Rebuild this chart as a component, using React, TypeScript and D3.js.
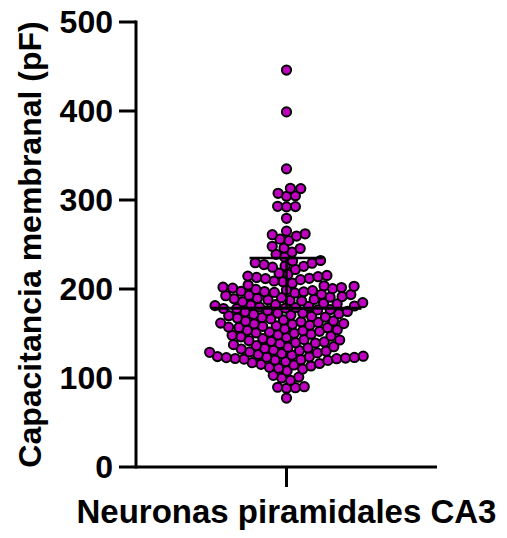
import React from "react";
import * as d3 from "d3";

const category = "Neuronas piramidales CA3";
const yLabel = "Capacitancia membranal (pF)";
const yTicks = [0, 100, 200, 300, 400, 500];

const outliers = [446, 399, 335, 313.2, 312.8, 307.5, 304.8, 304.2, 292.9, 292.3, 292.6, 279.4];
const band250 = [265, 261, 259.5, 256, 254.5, 262, 248, 245.5, 246, 241.5, 236, 239];
const band205 = [231.5, 229, 232, 226, 225.5, 229.5, 224.5, 222, 227.5, 216.5, 215.2, 213.8, 212, 210.5, 214.5, 211.7, 209, 217.8, 208.2, 213, 206.5];
const band185 = [204.5, 203, 202, 201, 199.5, 198.2, 197.5, 196.8, 199, 200.4, 197.1, 195.6, 203.6, 201.7, 196.2, 194, 193, 191.5, 190.2, 189.5, 188.3, 187.2, 186.5, 192.5, 189, 190.8, 185.6, 187.9, 193.7];
const band155 = [184, 183.2, 182.5, 181.3, 180.4, 179.8, 178.6, 177.9, 176.5, 175.8, 182, 180.9, 178.1, 176.9, 184.6, 179.2, 174.3, 173, 172.1, 171.4, 170, 169.2, 168.5, 167.3, 166.4, 165.2, 172.8, 170.7, 168, 174.8, 164.1, 163.2, 162.5, 161.7, 160.3, 159.4, 158.6, 157.2, 156.5, 155.3, 163.8, 160.9, 158, 161.1, 156.8];
const band125 = [154.2, 153.1, 152.4, 151.6, 150.3, 149.2, 148.5, 147.1, 146.3, 145.5, 153.6, 150.8, 148, 144.3, 143.1, 142, 141.2, 140.5, 139.3, 138.6, 137.5, 136.4, 135.2, 142.7, 139.8, 134.6, 133.2, 132.5, 131.4, 130.1, 129.3, 128.2, 127.5, 126.4, 125.6, 133.8, 130.8, 128.9];
const bandLow = [124.5, 123.8, 123.1, 122.4, 121.7, 121.2, 120.6, 124.1, 122.9, 119.8, 118.5, 117.2, 116.3, 115.4, 120.2, 123.4, 121.9, 113.5, 112, 111, 110, 108, 114.6, 103, 101, 100, 97.5, 90.2, 89.6, 89.1, 88.5, 77.5];

const values = [...outliers, ...band250, ...band205, ...band185, ...band155, ...band125, ...bandLow];

const W = 507;
const H = 538;
const axisX = 136;
const xEnd = 437;
const y0 = 467;
const yTop = 22;
const R = 4.6;
const D = 8.9;

function swarm(vals: number[], y: d3.ScaleLinear<number, number>) {
  const sorted = [...vals].sort((a, b) => a - b);
  const placed: { x: number; y: number }[] = [];
  for (const v of sorted) {
    const py = y(v);
    const cands = [0];
    for (const p of placed) {
      const dy = Math.abs(p.y - py);
      if (dy < D) {
        const dx = Math.sqrt(D * D - dy * dy);
        cands.push(p.x + dx + 0.01, p.x - dx - 0.01);
      }
    }
    cands.sort((a, b) => Math.abs(a) - Math.abs(b));
    let chosen = 0;
    for (const c of cands) {
      let ok = true;
      for (const p of placed) {
        const dx = p.x - c;
        const dy = p.y - py;
        if (dx * dx + dy * dy < D * D - 0.01) {
          ok = false;
          break;
        }
      }
      if (ok) {
        chosen = c;
        break;
      }
    }
    placed.push({ x: chosen, y: py });
  }
  return placed;
}

export default function App() {
  const y = d3.scaleLinear().domain([0, 500]).range([y0, yTop]);
  const x = d3.scaleBand().domain([category]).range([axisX, xEnd]);
  const center = (x(category) ?? 0) + x.bandwidth() / 2;
  const pts = swarm(values, y);
  const mean = d3.mean(values) ?? 0;
  const sd = d3.deviation(values) ?? 0;
  const font = "'Liberation Sans', Arial, sans-serif";

  return (
    <svg width={W} height={H} style={{ position: "absolute", left: 0, top: 0, background: "#fff" }}>
      <rect width={W} height={H} fill="#fff" />
      <line x1={axisX} x2={axisX} y1={yTop - 1.5} y2={y0 + 1.5} stroke="#000" strokeWidth={3} />
      <line x1={axisX} x2={xEnd} y1={y0} y2={y0} stroke="#000" strokeWidth={3} />
      {yTicks.map((t) => (
        <g key={t}>
          <line x1={axisX - 17} x2={axisX} y1={y(t)} y2={y(t)} stroke="#000" strokeWidth={3} />
          <text
            x={axisX - 23}
            y={y(t)}
            dy="0.35em"
            textAnchor="end"
            fontFamily={font}
            fontWeight="bold"
            fontSize={32}
          >
            {t}
          </text>
        </g>
      ))}
      <line x1={center} x2={center} y1={y0} y2={y0 + 20} stroke="#000" strokeWidth={3} />
      <text
        x={center}
        y={523}
        textAnchor="middle"
        fontFamily={font}
        fontWeight="bold"
        fontSize={33}
      >
        {category}
      </text>
      <text
        transform={`translate(41, ${(yTop + y0) / 2}) rotate(-90)`}
        textAnchor="middle"
        fontFamily={font}
        fontWeight="bold"
        fontSize={32}
      >
        {yLabel}
      </text>
      {pts.map((p, i) => (
        <circle key={i} cx={center + p.x} cy={p.y} r={R} fill="#C000C0" stroke="#000" strokeWidth={2} />
      ))}
      <line x1={center - 75} x2={center + 75} y1={y(mean)} y2={y(mean)} stroke="#000" strokeWidth={3} />
      <line x1={center} x2={center} y1={y(mean)} y2={y(mean + sd)} stroke="#000" strokeWidth={2.5} />
      <line x1={center - 37} x2={center + 37} y1={y(mean + sd)} y2={y(mean + sd)} stroke="#000" strokeWidth={2.5} />
    </svg>
  );
}
